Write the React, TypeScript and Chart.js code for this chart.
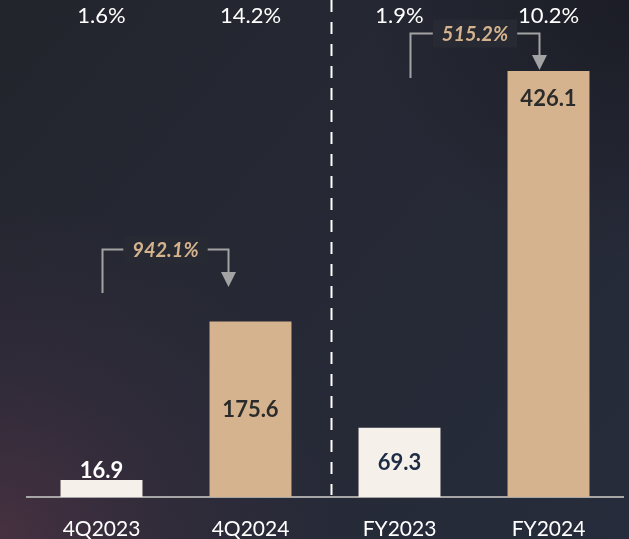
import React, { useEffect, useRef } from "react";
import { Chart, registerables } from "chart.js";

Chart.register(...registerables);

const categories = ["4Q2023", "4Q2024", "FY2023", "FY2024"];
const values = [16.9, 175.6, 69.3, 426.1];
const marginLabels = ["1.6%", "14.2%", "1.9%", "10.2%"];
const growthLabels = ["942.1%", "515.2%"];
const growthFrom = [0, 2];
const growthTo = [1, 3];
// arrow levels expressed in value units
const growthTop = [248, 464];
const growthStart = [204, 419];
const growthTip = [210, 427];

const barColors = ["#f6f0ea", "#d4b38e", "#f6f0ea", "#d4b38e"];
const valueColors = ["#ffffff", "#2b2b2b", "#1b2c44", "#2b2b2b"];
const valuePlacement = ["above", "center", "center", "top"];
const arrowOffsets = [
  [0, -23],
  [10, -10],
];

const FONT = "Lato, 'Open Sans', sans-serif";

const overlayPlugin = {
  id: "overlay",
  beforeDraw(chart: any) {
    const { ctx, width, height } = chart;
    ctx.save();
    const lg = ctx.createLinearGradient(0, 0, width, height);
    lg.addColorStop(0, "#23252d");
    lg.addColorStop(0.5, "#262935");
    lg.addColorStop(1, "#262c3b");
    ctx.fillStyle = lg;
    ctx.fillRect(0, 0, width, height);
    const rg = ctx.createRadialGradient(0, height, 0, 0, height, 340);
    rg.addColorStop(0, "rgba(74,50,66,0.9)");
    rg.addColorStop(0.45, "rgba(68,48,66,0.4)");
    rg.addColorStop(1, "rgba(60,45,65,0)");
    ctx.fillStyle = rg;
    ctx.fillRect(0, 0, width, height);
    const tr = ctx.createRadialGradient(width, 0, 0, width, 0, 260);
    tr.addColorStop(0, "rgba(20,20,26,0.6)");
    tr.addColorStop(1, "rgba(20,20,26,0)");
    ctx.fillStyle = tr;
    ctx.fillRect(0, 0, width, height);
    ctx.restore();
  },
  afterDatasetsDraw(chart: any) {
    const { ctx, scales } = chart;
    const x = scales.x;
    const y = scales.y;
    const area = chart.chartArea;
    ctx.save();

    // divider
    ctx.strokeStyle = "#ffffff";
    ctx.lineWidth = 2;
    ctx.setLineDash([12, 10]);
    const dx = Math.round(x.getPixelForValue(1.54)) + 0.5;
    ctx.beginPath();
    ctx.moveTo(dx, 0);
    ctx.lineTo(dx, area.bottom - 2);
    ctx.stroke();
    ctx.setLineDash([]);

    // margin labels at top
    ctx.fillStyle = "#ffffff";
    ctx.font = `22px ${FONT}`;
    ctx.textAlign = "center";
    ctx.textBaseline = "alphabetic";
    marginLabels.forEach((t, i) => {
      ctx.fillText(t, x.getPixelForValue(i), 23);
    });

    // value labels
    const meta = chart.getDatasetMeta(0);
    ctx.font = `bold 22px ${FONT}`;
    meta.data.forEach((bar: any, i: number) => {
      const top = bar.y;
      const base = bar.base;
      let by = (top + base) / 2 + 8;
      if (valuePlacement[i] === "above") by = top - 2;
      if (valuePlacement[i] === "top") by = top + 35;
      ctx.fillStyle = valueColors[i];
      ctx.fillText(values[i].toFixed(1), bar.x, by);
    });

    // growth arrows
    growthLabels.forEach((label, k) => {
      const x1 = Math.round(x.getPixelForValue(growthFrom[k]) + arrowOffsets[k][0]) + 0.5;
      const x2 = Math.round(x.getPixelForValue(growthTo[k]) + arrowOffsets[k][1]) + 0.5;
      const yt = Math.round(y.getPixelForValue(growthTop[k])) + 0.5;
      const ys = y.getPixelForValue(growthStart[k]);
      const tip = y.getPixelForValue(growthTip[k]);
      const head = 15;
      ctx.strokeStyle = "#a3a3a3";
      ctx.fillStyle = "#a3a3a3";
      ctx.lineWidth = 2;
      ctx.beginPath();
      ctx.moveTo(x1, ys);
      ctx.lineTo(x1, yt);
      ctx.lineTo(x2, yt);
      ctx.lineTo(x2, tip - head);
      ctx.stroke();
      ctx.beginPath();
      ctx.moveTo(x2 - 7.5, tip - head);
      ctx.lineTo(x2 + 7.5, tip - head);
      ctx.lineTo(x2, tip);
      ctx.closePath();
      ctx.fill();

      ctx.font = `italic bold 20px ${FONT}`;
      const w = ctx.measureText(label).width + 18;
      const cx = (x1 + x2) / 2;
      ctx.fillStyle = "#272a32";
      ctx.fillRect(cx - w / 2, yt - 14, w, 28);
      ctx.fillStyle = "#d4b38e";
      ctx.textAlign = "center";
      ctx.textBaseline = "middle";
      ctx.fillText(label, cx, yt + 1);
      ctx.textBaseline = "alphabetic";
    });

    ctx.restore();
  },
};

export default function App() {
  const ref = useRef<HTMLCanvasElement | null>(null);

  useEffect(() => {
    document.body.style.margin = "0";
    const canvas = ref.current;
    if (!canvas) return;
    const chart = new Chart(canvas, {
      type: "bar",
      data: {
        labels: categories,
        datasets: [
          {
            data: values,
            backgroundColor: barColors,
            borderWidth: 0,
            barPercentage: 0.55,
            categoryPercentage: 1,
          },
        ],
      },
      options: {
        responsive: false,
        animation: false,
        layout: { padding: { left: 27, right: 6, top: 0, bottom: 0 } },
        plugins: {
          legend: { display: false },
          tooltip: { enabled: false },
        },
        scales: {
          x: {
            grid: { display: false, drawTicks: false },
            border: { display: true, color: "#a6a6a6", width: 2 },
            ticks: {
              color: "#ffffff",
              font: { family: FONT, size: 21 },
              padding: 20,
            },
            afterFit(scale: any) {
              scale.height = 42;
            },
          },
          y: {
            display: false,
            min: 0,
            max: 497,
          },
        },
      },
      plugins: [overlayPlugin],
    });
    return () => chart.destroy();
  }, []);

  return (
    <div style={{ width: 629, height: 539 }}>
      <canvas ref={ref} width={629} height={539} />
    </div>
  );
}
